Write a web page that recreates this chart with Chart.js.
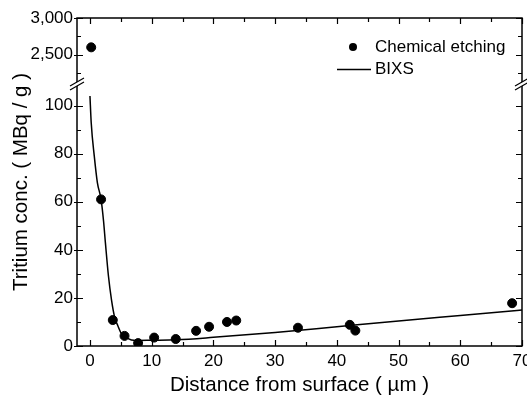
<!DOCTYPE html>
<html>
<head>
<meta charset="utf-8">
<script src="https://cdn.jsdelivr.net/npm/chart.js@4/dist/chart.umd.min.js"></script>
<style>
  html, body { margin: 0; padding: 0; background: #fff; overflow: hidden; }
  #wrap { width: 527px; height: 396px; overflow: hidden; }
  canvas { display: block; }
</style>
</head>
<body>
<div id="wrap"><canvas id="myChart" width="560" height="396"></canvas></div>
<script>
const canvas = document.getElementById('myChart')
const font = "'Liberation Sans', Arial, sans-serif"

// chemical etching: depth (um) and tritium concentration (MBq/g)
const etchX = [0.2, 1.8, 3.7, 5.6, 7.8, 10.4, 13.9, 17.2, 19.3, 22.2, 23.7, 33.7, 42.1, 43.0, 68.4]
const etchY = [2600, 61, 10.8, 4.2, 1.2, 3.5, 2.9, 6.3, 8.0, 10.0, 10.6, 7.6, 8.8, 6.4, 17.8]

// BIXS depth profile
const bixsX = [0, 0.2, 0.7, 1.2, 1.8, 2.2, 2.5, 3.0, 3.5, 4.0, 4.5, 5.0, 6.0, 7.5, 10, 14, 20, 30, 40, 50, 60, 70]
const bixsY = [104, 93, 79, 68, 61, 52, 43, 29, 19, 12, 8.5, 5.6, 3.3, 2.3, 2.4, 2.6, 3.6, 5.6, 8.0, 10.4, 12.7, 15.0]

// ticks
const xMajor = [0, 10, 20, 30, 40, 50, 60, 70]
const xMinor = [5, 15, 25, 35, 45, 55, 65]
const yLowMajor = [0, 20, 40, 60, 80, 100]
const yLowMinor = [10, 30, 50, 70, 90]
const yHighMajor = [2500, 3000]
const yHighMinor = [2250, 2750]

// broken y axis: lower part 0..lowMax, upper part highMin..highMax
const lowMax = 109
const highMin = 2100
const highMax = 3000

const toPoints = (xs, ys) => xs.map((x, i) => ({ x, y: ys[i] }))
const etching = toPoints(etchX, etchY)

function setTicks(major, minor) {
    return scale => {
        scale.ticks = major.map(v => ({ value: v, major: true }))
            .concat(minor.map(v => ({ value: v, major: false })))
            .sort((a, b) => a.value - b.value)
    }
}

const tickLabel = (v, i, ticks) => ticks[i].major ? v.toLocaleString('en-US') : ''

const tickFont = { family: font, size: 17 }

function yScale(min, max, weight, major, minor) {
    return {
        type: 'linear', position: 'left', stack: 'conc', stackWeight: weight,
        min, max,
        afterBuildTicks: setTicks(major, minor),
        afterFit: s => { s.width = 77 },
        grid: { display: false, drawTicks: false },
        border: { display: false },
        ticks: { color: '#000', font: tickFont, padding: 4, autoSkip: false, callback: tickLabel }
    }
}

// frame, inward ticks, axis break marks, y title and legend
const framePlugin = {
    id: 'frame',
    afterDatasetsDraw(chart) {
        const { ctx, chartArea: a, scales } = chart
        ctx.save()
        ctx.strokeStyle = '#000'
        ctx.lineWidth = 1.5
        ctx.strokeRect(a.left, a.top, a.right - a.left, a.bottom - a.top)

        ctx.lineWidth = 1.2
        ctx.beginPath()
        scales.x.ticks.forEach(t => {
            const px = Math.round(scales.x.getPixelForValue(t.value)) + 0.5
            const len = t.major ? 6 : 4
            ctx.moveTo(px, a.bottom); ctx.lineTo(px, a.bottom - len)
            ctx.moveTo(px, a.top); ctx.lineTo(px, a.top + len)
        })
        ;[scales.y, scales.y2].forEach(s => s.ticks.forEach(t => {
            const py = Math.round(s.getPixelForValue(t.value)) + 0.5
            const len = t.major ? 6 : 4
            ctx.moveTo(a.left - (t.major ? 3 : 0), py); ctx.lineTo(a.left + len, py)
            ctx.moveTo(a.right, py); ctx.lineTo(a.right - len, py)
        }))
        ctx.stroke()

        // break marks where the two y ranges meet
        const yb = scales.y.top
        ;[a.left, a.right].forEach(x0 => {
            ctx.fillStyle = '#fff'
            ctx.beginPath()
            ctx.moveTo(x0 - 6, yb + 5.5)
            ctx.lineTo(x0 + 6, yb - 1.5)
            ctx.lineTo(x0 + 6, yb - 5.5)
            ctx.lineTo(x0 - 6, yb + 1.5)
            ctx.closePath()
            ctx.fill()
            ctx.lineWidth = 1.2
            ctx.beginPath()
            ctx.moveTo(x0 - 7, yb + 6); ctx.lineTo(x0 + 7, yb - 2)
            ctx.moveTo(x0 - 7, yb + 2); ctx.lineTo(x0 + 7, yb - 6)
            ctx.stroke()
        })

        // y axis title, centred on the whole plot height
        ctx.fillStyle = '#000'
        ctx.font = '20.5px ' + font
        ctx.textAlign = 'center'
        ctx.textBaseline = 'middle'
        ctx.translate(21, (a.top + a.bottom) / 2)
        ctx.rotate(-Math.PI / 2)
        ctx.fillText('Tritium conc. ( MBq / g )', 0, 0)
        ctx.setTransform(1, 0, 0, 1, 0, 0)

        // legend
        const lx = a.right - 147
        ctx.font = '17px ' + font
        ctx.textAlign = 'left'
        ctx.beginPath()
        ctx.arc(lx - 22, 47, 4, 0, Math.PI * 2)
        ctx.fill()
        ctx.fillText('Chemical etching', lx, 47)
        ctx.lineWidth = 1.5
        ctx.beginPath()
        ctx.moveTo(lx - 38, 69.5); ctx.lineTo(lx - 4, 69.5)
        ctx.stroke()
        ctx.fillText('BIXS', lx, 69)
        ctx.restore()
    }
}

const config = {
    type: 'scatter',
    data: {
        datasets: [{
            label: 'BIXS',
            data: toPoints(bixsX, bixsY),
            yAxisID: 'y',
            showLine: true,
            cubicInterpolationMode: 'monotone',
            borderColor: '#000',
            borderWidth: 1.5,
            pointRadius: 0
        }, {
            label: 'Chemical etching',
            data: etching.filter(p => p.y <= lowMax),
            yAxisID: 'y',
            pointRadius: 4.5,
            backgroundColor: '#000',
            borderColor: '#000'
        }, {
            label: 'Chemical etching',
            data: etching.filter(p => p.y > lowMax),
            yAxisID: 'y2',
            pointRadius: 4.5,
            backgroundColor: '#000',
            borderColor: '#000'
        }]
    },
    options: {
        responsive: false,
        animation: false,
        layout: { padding: { top: 18, right: 38, left: 0, bottom: 0 } },
        plugins: { legend: { display: false }, tooltip: { enabled: false } },
        scales: {
            x: {
                type: 'linear', min: -2.1, max: 70,
                afterBuildTicks: setTicks(xMajor, xMinor),
                afterFit: s => { s.height = 50 },
                grid: { display: false, drawTicks: false },
                border: { display: false },
                ticks: { color: '#000', font: tickFont, padding: 5, maxRotation: 0, autoSkip: false, callback: tickLabel },
                title: {
                    display: true, text: 'Distance from surface ( µm )', color: '#000',
                    font: { family: font, size: 20.5 }, padding: { top: 0, bottom: -2 }
                }
            },
            y: yScale(0, lowMax, 262, yLowMajor, yLowMinor),
            y2: yScale(highMin, highMax, 66, yHighMajor, yHighMinor)
        }
    },
    plugins: [framePlugin]
}

new Chart(canvas, config)
</script>
</body>
</html>
